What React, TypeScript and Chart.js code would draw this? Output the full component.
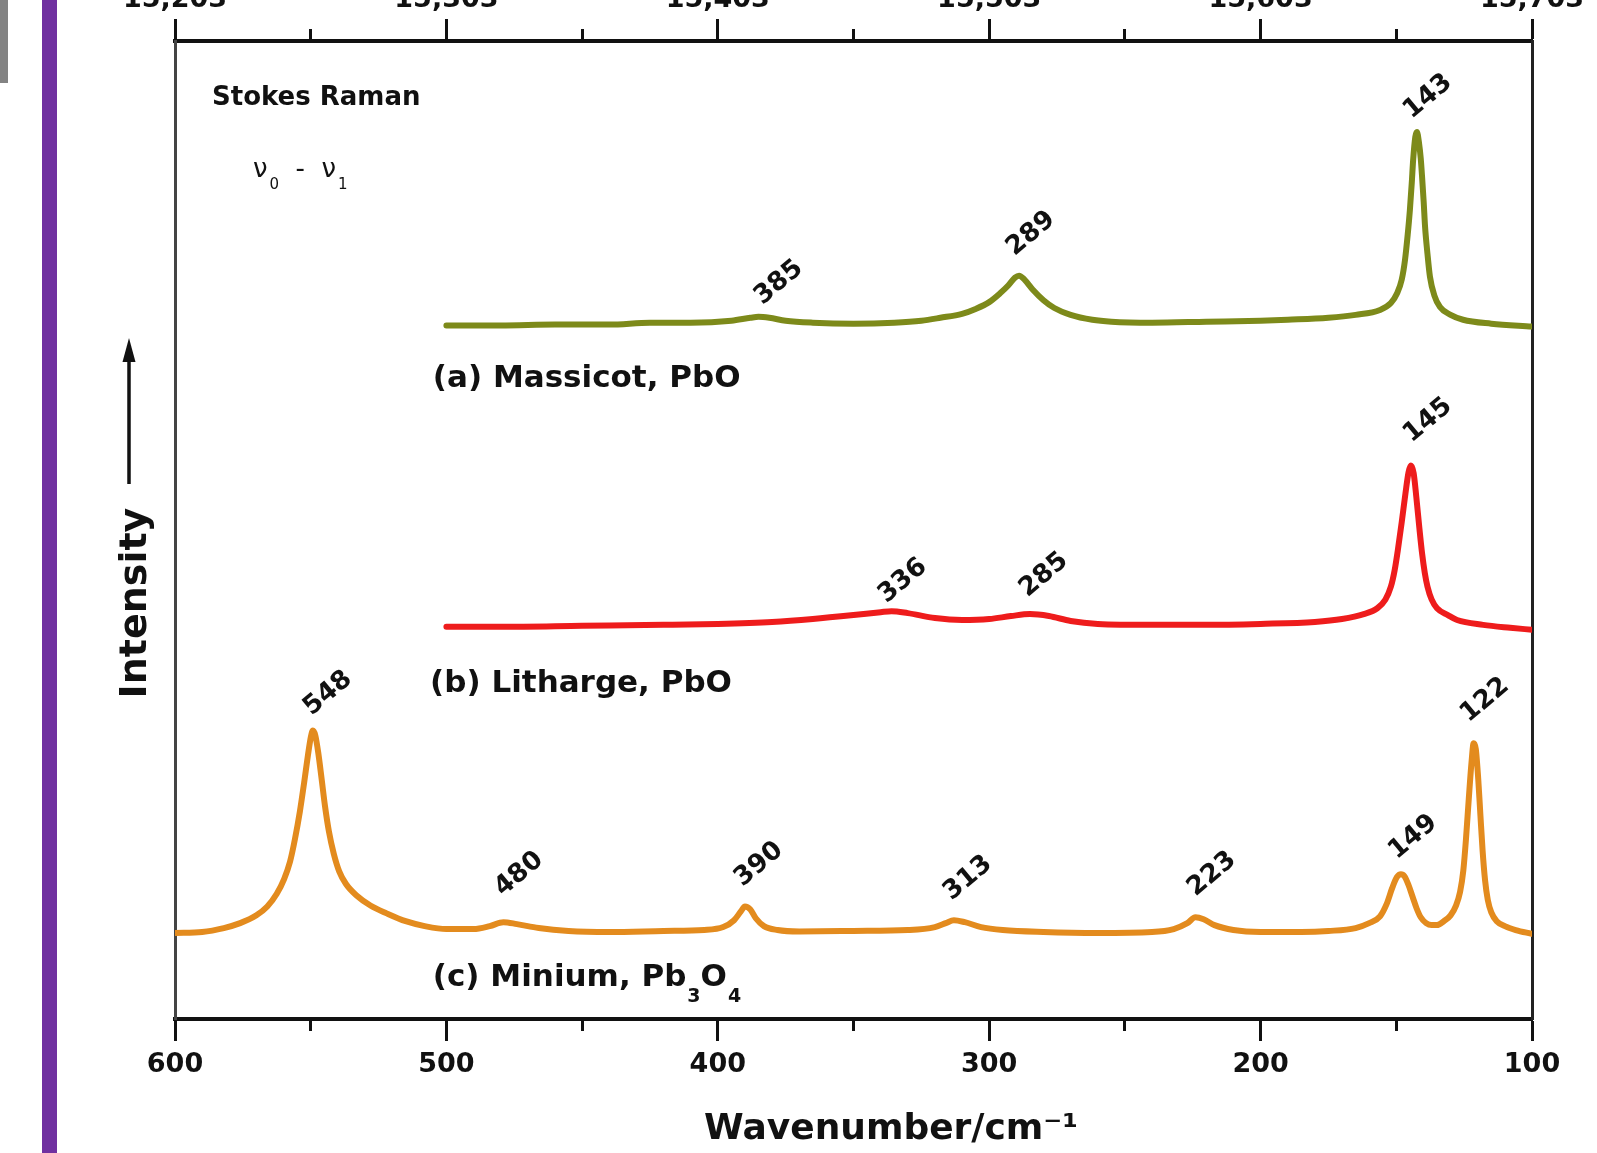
import React, { useEffect, useRef } from 'react';
import { Chart, registerables } from 'chart.js';

Chart.register(...registerables);

// Tick values and labels
const xTickValues = [600, 500, 400, 300, 200, 100];
const bottomTickLabels = ['600', '500', '400', '300', '200', '100'];
const topTickLabels = ['15,203', '15,303', '15,403', '15,503', '15,603', '15,703'];

// Spectra: [wavenumber (cm-1), intensity (arb., offset)]
const massicot: number[][] = [
  [500, 70.9], [480, 70.9], [460, 71.0], [440, 71.0], [425, 71.2], [410, 71.2], [395, 71.4], [388, 71.7],
  [385, 71.8], [381, 71.7], [375, 71.4], [365, 71.2], [350, 71.1], [335, 71.2], [325, 71.4], [318, 71.7],
  [310, 72.1], [305, 72.6], [300, 73.3], [296, 74.2], [293, 75.0], [290.5, 75.8], [289, 76.0], [287, 75.6],
  [284, 74.6], [280, 73.5], [276, 72.7], [270, 72.0], [262, 71.5], [255, 71.3], [240, 71.2], [220, 71.3],
  [200, 71.4], [190, 71.5], [175, 71.7], [165, 72.0], [156, 72.5], [152, 73.2], [149.7, 74.2], [148, 75.6],
  [146.8, 77.6], [145.8, 80.2], [145, 82.7], [144.3, 85.5], [143.8, 87.8], [143, 90.2], [142.4, 90.7],
  [141.6, 89.5], [141, 88.0], [140.5, 86.1], [139.9, 83.5], [139.4, 81.0], [138.5, 78.2], [137.6, 75.9],
  [136, 74.0], [133.9, 72.8], [130, 72.0], [125.4, 71.5], [115, 71.1], [100, 70.8],
];

const litharge: number[][] = [
  [500, 40.1], [480, 40.1], [450, 40.2], [420, 40.3], [400, 40.4], [380, 40.6], [365, 40.9], [350, 41.3],
  [340, 41.6], [336, 41.7], [330, 41.5], [320, 41.0], [310, 40.8], [300, 40.9], [292, 41.2], [285, 41.4],
  [278, 41.2], [270, 40.7], [260, 40.4], [240, 40.3], [220, 40.3], [200, 40.4], [180, 40.6], [170, 40.9],
  [162, 41.4], [157, 42.0], [154, 42.9], [152, 44.2], [150.6, 45.9], [149.4, 48.0], [148, 50.8],
  [146.6, 53.8], [145.5, 55.9], [144.6, 56.6], [143.6, 55.8], [142.6, 53.3], [141.5, 50.2], [140.5, 47.6],
  [139.5, 45.6], [138.5, 44.2], [137, 42.9], [135, 42.0], [131, 41.3], [127.6, 40.8], [118, 40.3],
  [108, 40.0], [100, 39.8],
];

const minium: number[][] = [
  [600, 8.8], [590, 8.9], [582, 9.3], [576, 9.8], [570, 10.6], [566, 11.5], [562.5, 12.8], [559.8, 14.3],
  [557.6, 16.1], [555.8, 18.4], [554, 21.2], [552.4, 24.2], [551, 27.0], [549.9, 28.9], [549.2, 29.5],
  [548.3, 29.0], [547.2, 27.2], [546, 24.6], [544.7, 21.7], [543.3, 19.2], [541.5, 16.9], [539.5, 15.1],
  [537, 13.8], [533, 12.6], [528, 11.6], [522, 10.8], [515, 10.0], [508, 9.5], [500, 9.2], [490, 9.2],
  [484, 9.5], [479, 9.9], [474, 9.7], [466, 9.3], [455, 9.0], [440, 8.9], [420, 9.0], [405, 9.1], [398, 9.4],
  [394, 10.1], [391.5, 11.0], [390, 11.5], [388, 11.2], [386, 10.3], [383, 9.5], [378, 9.1], [370, 8.95],
  [350, 9.0], [330, 9.1], [320, 9.4], [316, 9.8], [313, 10.1], [309, 9.9], [303, 9.4], [295, 9.1], [280, 8.9],
  [260, 8.8], [240, 8.9], [232, 9.2], [227, 9.8], [224, 10.4], [221, 10.2], [217, 9.6], [210, 9.1], [200, 8.9],
  [185, 8.9], [175, 9.0], [165, 9.3], [160, 9.8], [156, 10.5], [153.5, 11.8], [151.5, 13.4], [149.8, 14.5],
  [148.3, 14.8], [147, 14.6], [145.5, 13.7], [144, 12.5], [142.5, 11.3], [141, 10.4], [139, 9.8], [137, 9.6],
  [135, 9.6], [132.5, 10.0], [130, 10.6], [128, 11.6], [126.5, 13.0], [125.3, 15.2], [124.3, 18.5],
  [123.3, 22.5], [122.3, 26.2], [121.5, 28.2], [120.7, 27.6], [119.8, 24.5], [119, 20.8], [118.2, 17.2],
  [117.3, 14.2], [116.3, 12.2], [115, 10.9], [113, 10.0], [110, 9.5], [106, 9.1], [100, 8.7],
];

// Peak annotations: label text, label centre (wavenumber, intensity)
const peakLabelTexts = ['143', '289', '385', '145', '336', '285', '548', '480', '390', '313', '223', '149', '122'];
const peakLabelX = [138.3, 284.6, 377.5, 138.3, 331.8, 279.8, 543.6, 473.2, 384.8, 307.8, 217.9, 143.8, 117.3];
const peakLabelY = [94.3, 80.3, 75.3, 61.2, 44.8, 45.4, 33.3, 14.8, 15.8, 14.4, 14.8, 18.6, 32.6];

const seriesNames = ['(a) Massicot, PbO', '(b) Litharge, PbO', '(c) Minium, Pb₃O₄'];
const seriesColors = ['#7d8a1a', '#ee1c1c', '#e38b1e'];

const FONT = '"DejaVu Sans"';
const SUBS = '₀₁₂₃₄₅₆₇₈₉';

function drawRich(
  ctx: CanvasRenderingContext2D, text: string, x: number, y: number,
  size: number, weight: string, subSize: number, subDrop: number, subGap: number,
) {
  let cx = x;
  let run = '';
  let runSub = false;
  const flush = () => {
    if (!run) return;
    ctx.font = `${weight} ${runSub ? subSize : size}px ${FONT}`;
    if (runSub) cx += subGap;
    ctx.fillText(run, cx, runSub ? y + subDrop : y);
    cx += ctx.measureText(run).width;
    run = '';
  };
  for (const ch of text) {
    const idx = SUBS.indexOf(ch);
    const isSub = idx >= 0;
    if (isSub !== runSub) { flush(); runSub = isSub; }
    run += isSub ? String(idx) : ch;
  }
  flush();
}

const decorPlugin = {
  id: 'decor',
  beforeDraw(chart: any) {
    const ctx = chart.ctx as CanvasRenderingContext2D;
    ctx.save();
    ctx.fillStyle = '#ffffff';
    ctx.fillRect(0, 0, chart.width, chart.height);
    ctx.fillStyle = '#7030a0';
    ctx.fillRect(42, 0, 15, chart.height);
    ctx.fillStyle = '#838383';
    ctx.fillRect(0, 0, 8, 83);
    ctx.restore();
  },
  afterDraw(chart: any) {
    const ctx = chart.ctx as CanvasRenderingContext2D;
    const xs = chart.scales.x;
    const ys = chart.scales.y;
    const ca = chart.chartArea;
    ctx.save();
    ctx.fillStyle = '#111';
    ctx.strokeStyle = '#111';
    ctx.textAlign = 'left';
    ctx.textBaseline = 'alphabetic';

    // corner notes
    ctx.font = `bold 26px ${FONT}`;
    ctx.fillText('Stokes Raman', ca.left + 37, ca.top + 64);
    drawRich(ctx, 'ν₀  -  ν₁', ca.left + 78, ca.top + 136, 26, 'normal', 15, 12, 2);

    // series labels (anchored in data space)
    const labelX = [505, 506, 505];
    const labelY = [64.6, 33.4, 3.4];
    seriesNames.forEach((name, i) => {
      drawRich(ctx, name, xs.getPixelForValue(labelX[i]), ys.getPixelForValue(labelY[i]), 31, 'bold', 19, 16, 1);
    });

    // peak labels
    ctx.font = `bold 26px ${FONT}`;
    ctx.textAlign = 'center';
    ctx.textBaseline = 'middle';
    peakLabelTexts.forEach((t, i) => {
      const px = xs.getPixelForValue(peakLabelX[i]);
      const py = ys.getPixelForValue(peakLabelY[i]);
      ctx.save();
      ctx.translate(px, py);
      ctx.rotate(-40 * Math.PI / 180);
      ctx.fillText(t, 0, 0);
      ctx.restore();
    });

    // Intensity label with arrow
    ctx.save();
    ctx.translate(146, 603);
    ctx.rotate(-Math.PI / 2);
    ctx.font = `bold 38px ${FONT}`;
    ctx.textAlign = 'center';
    ctx.textBaseline = 'alphabetic';
    ctx.fillText('Intensity', 0, 0);
    ctx.restore();

    ctx.lineWidth = 3.5;
    ctx.beginPath();
    ctx.moveTo(129, 484);
    ctx.lineTo(129, 356);
    ctx.stroke();
    ctx.beginPath();
    ctx.moveTo(129, 338);
    ctx.lineTo(122.5, 362);
    ctx.lineTo(135.5, 362);
    ctx.closePath();
    ctx.fill();

    ctx.restore();
  },
};

const isMajor = (v: number) => xTickValues.includes(v);
const labelFor = (v: number, labels: string[]) => {
  const i = xTickValues.indexOf(v);
  return i >= 0 ? labels[i] : '';
};

export default function App() {
  const ref = useRef<HTMLCanvasElement>(null);

  useEffect(() => {
    if (!ref.current) return;
    Chart.defaults.font.family = FONT;
    Chart.defaults.color = '#111';

    const series = [massicot, litharge, minium];
    const chart = new Chart(ref.current, {
      type: 'line',
      data: {
        datasets: series.map((s, i) => ({
          label: seriesNames[i],
          data: s.map(([x, y]) => ({ x, y })),
          borderColor: seriesColors[i],
          backgroundColor: seriesColors[i],
          borderWidth: 6,
          pointRadius: 0,
          fill: false,
          cubicInterpolationMode: 'monotone' as const,
          borderJoinStyle: 'round' as const,
          borderCapStyle: 'round' as const,
        })),
      },
      options: {
        animation: false,
        responsive: false,
        events: [],
        layout: { padding: 0 },
        plugins: { legend: { display: false }, tooltip: { enabled: false } },
        scales: {
          x: {
            type: 'linear',
            position: 'bottom',
            min: 100,
            max: 600,
            reverse: true,
            afterFit: (s: any) => { s.height = 134; },
            border: { display: true, width: 4, color: '#111' },
            grid: {
              display: true,
              drawOnChartArea: false,
              drawTicks: true,
              tickLength: 22,
              tickWidth: 3,
              tickColor: '#111',
              tickBorderDash: (c: any) => (c.tick && !isMajor(c.tick.value) ? [10, 100] : []),
            },
            ticks: {
              stepSize: 50,
              autoSkip: false,
              maxRotation: 0,
              minRotation: 0,
              padding: 8,
              color: '#111',
              font: { size: 27, weight: 'bold' },
              callback: (v: any) => labelFor(Number(v), bottomTickLabels),
            },
            title: {
              display: true,
              text: '      Wavenumber/cm⁻¹',
              color: '#111',
              font: { size: 36, weight: 'bold' },
              padding: { top: 0, bottom: 2 },
            },
          },
          x2: {
            type: 'linear',
            position: 'top',
            min: 100,
            max: 600,
            reverse: true,
            afterFit: (s: any) => { s.height = 41; },
            border: { display: true, width: 4, color: '#111' },
            grid: {
              display: true,
              drawOnChartArea: false,
              drawTicks: true,
              tickLength: 22,
              tickWidth: 3,
              tickColor: '#111',
              tickBorderDash: (c: any) => (c.tick && !isMajor(c.tick.value) ? [0, 10, 10, 100] : []),
            },
            ticks: {
              stepSize: 50,
              autoSkip: false,
              maxRotation: 0,
              minRotation: 0,
              padding: 3,
              color: '#111',
              font: { size: 27, weight: 'bold' },
              callback: (v: any) => labelFor(Number(v), topTickLabels),
            },
          },
          y: {
            type: 'linear',
            position: 'left',
            min: 0,
            max: 100,
            afterFit: (s: any) => { s.width = 175; },
            ticks: { display: false },
            grid: { display: false },
            border: { display: true, width: 3, color: '#444' },
          },
          y2: {
            type: 'linear',
            position: 'right',
            min: 0,
            max: 100,
            afterFit: (s: any) => { s.width = 65; },
            ticks: { display: false },
            grid: { display: false },
            border: { display: true, width: 3, color: '#222' },
          },
        },
      } as any,
      plugins: [decorPlugin],
    });
    return () => chart.destroy();
  }, []);

  return (
    <div style={{ position: 'fixed', left: 0, top: 0, width: 1597, height: 1153, background: '#fff' }}>
      <canvas ref={ref} width={1597} height={1153} style={{ display: 'block', width: 1597, height: 1153 }} />
    </div>
  );
}
